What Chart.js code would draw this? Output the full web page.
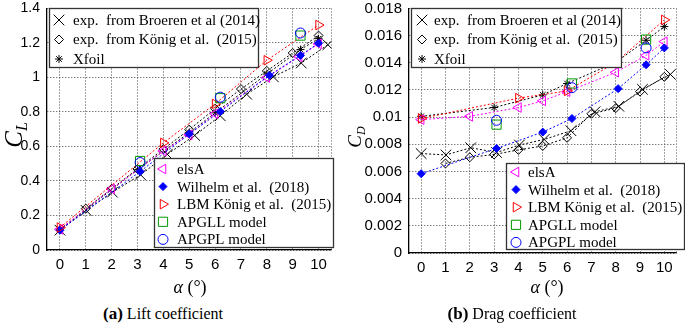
<!DOCTYPE html>
<html><head><meta charset="utf-8">
<script src="https://cdn.jsdelivr.net/npm/chart.js@4.4.0/dist/chart.umd.min.js"></script>
<style>
html,body{margin:0;padding:0;background:#fff;}
#wrap{position:relative;width:685px;height:323px;overflow:hidden;font-family:'Liberation Serif',serif;color:#000;}
canvas{position:absolute;top:0;}
.t{position:absolute;white-space:nowrap;transform:translate(-50%,-50%);line-height:1;}
.r{transform:translate(-50%,-50%) rotate(-90deg);}
</style></head><body>
<div id="wrap">
<canvas id="cl" width="340" height="300" style="left:0"></canvas>
<canvas id="cd" width="345" height="300" style="left:340px"></canvas>
<div class="t r" style="left:13px;top:135px;font-size:25px;"><i>C</i><i style="font-size:16px;position:relative;top:5px;">L</i></div>
<div class="t r" style="left:354px;top:137px;font-size:19px;"><i>C</i><i style="font-size:12px;position:relative;top:4px;">D</i></div>
<div class="t" style="left:190px;top:287px;font-size:18px;"><i>α</i> (°)</div>
<div class="t" style="left:547px;top:287px;font-size:18px;"><i>α</i> (°)</div>
<div class="t" style="left:163px;top:313px;font-size:16px;"><b style="font-size:17px">(a)</b> Lift coefficient</div>
<div class="t" style="left:512px;top:313px;font-size:16px;"><b style="font-size:17px">(b)</b> Drag coefficient</div>
</div>
<script>
// ---------- DATA ----------
const xTickValues = [0,1,2,3,4,5,6,7,8,9,10];
const clTickValues = [0,0.2,0.4,0.6,0.8,1,1.2,1.4];
const clTickLabels = ["0","0.2","0.4","0.6","0.8","1","1.2","1.4"];
const cdTickValues = [0,0.002,0.004,0.006,0.008,0.01,0.012,0.014,0.016,0.018];
const cdTickLabels = ["0","0.002","0.004","0.006","0.008","0.01","0.012","0.014","0.016","0.018"];

const seriesNames = ["exp.  from Broeren et al (2014)","exp.  from König et al.  (2015)","Xfoil","elsA","Wilhelm et al.  (2018)","LBM König et al.  (2015)","APGLL model","APGPL model"];

// Lift coefficient
const clBroerenAlpha = [0,1.01,2.03,3.12,4.15,5.21,6.2,7.22,8.25,9.33,10.36];
const clBroeren      = [0.115,0.23,0.335,0.436,0.555,0.664,0.778,0.903,1.004,1.084,1.19];
const clKonigAlpha   = [1,2,3,4,5,6,7,8,9,10];
const clKonig        = [0.24,0.355,0.47,0.585,0.698,0.819,0.933,1.038,1.142,1.243];
const clXfoilAlpha   = [0,3,5,6,8,9.3,10];
const clXfoil        = [0.12,0.465,0.68,0.795,1.02,1.162,1.225];
const clElsaAlpha    = [0,2,4,5,6,8,9.25,10];
const clElsa         = [0.12,0.354,0.574,0.668,0.79,1.0,1.12,1.195];
const clWilhelmAlpha = [0,3.1,5,6.2,8.1,9.3,10];
const clWilhelm      = [0.115,0.455,0.673,0.803,1.013,1.128,1.199];
const clLbmAlpha     = [0,4,6,8,10];
const clLbm          = [0.13,0.621,0.847,1.10,1.304];
const clModelAlpha   = [3.1,6.2,9.3];
const clApgll        = [0.516,0.88,1.243];
const clApgpl        = [0.507,0.886,1.258];

// Drag coefficient
const cdBroerenAlpha = [0,1.02,2.04,3.1,4.04,5.06,6.16,7.15,8.13,9.1,10.25];
const cdBroeren      = [0.00732,0.00722,0.00775,0.0074,0.00795,0.00836,0.0090,0.0104,0.0108,0.01205,0.01315];
const cdKonigAlpha   = [1,2,3,4,5,6,7,8,9,10];
const cdKonig        = [0.00659,0.00705,0.00725,0.00759,0.00788,0.00848,0.01025,0.01066,0.01188,0.01297];
const cdXfoilAlpha   = [0,3,5,6,8,9.25,10];
const cdXfoil        = [0.01006,0.01071,0.01164,0.01248,0.01403,0.01566,0.01667];
const cdElsaAlpha    = [0,2,4,5,6,8,9.25,10];
const cdElsa         = [0.00982,0.01006,0.01071,0.0112,0.01188,0.0133,0.01455,0.01556];
const cdWilhelmAlpha = [0,3.1,5,6.2,8.1,9.25,10];
const cdWilhelm      = [0.00584,0.0077,0.0089,0.0099,0.0121,0.01386,0.0151];
const cdLbmAlpha     = [0,4,6,8,10];
const cdLbm          = [0.0099,0.0114,0.01193,0.01403,0.01716];
const cdModelAlpha   = [3.1,6.2,9.25];
const cdApgll        = [0.00945,0.01248,0.01571];
const cdApgpl        = [0.00977,0.01217,0.0151];

// ---------- STYLES ----------
const styles = [
  {color:'#000000', style:'crossRot', r:7.5, fill:'rgba(0,0,0,0)', rot:0, line:true},
  {color:'#000000', style:'rectRot', r:4.5, fill:'rgba(255,255,255,0)', rot:0, line:true},
  {color:'#000000', style:'star', r:4, fill:'#000', rot:0, line:true},
  {color:'#ff00ff', style:'triangle', r:5.5, fill:'rgba(0,0,0,0)', rot:270, line:true},
  {color:'#0000ff', style:'rectRot', r:4, fill:'#0000ff', rot:0, line:true},
  {color:'#ff0000', style:'triangle', r:5.5, fill:'rgba(0,0,0,0)', rot:90, line:true},
  {color:'#009a00', style:'rect', r:6.5, fill:'rgba(0,0,0,0)', rot:0, line:false},
  {color:'#0000ff', style:'circle', r:5, fill:'rgba(0,0,0,0)', rot:0, line:false}
];

function pts(a, v){ return a.map((x,i)=>({x:x, y:v[i]})); }
function makeDatasets(list){
  return list.map((d,i)=>{
    const s = styles[i];
    return {
      label: seriesNames[i], data: pts(d[0], d[1]),
      showLine: s.line, borderColor: s.color, borderWidth: 1, borderDash:[2,2],
      pointStyle: s.style, pointRadius: s.r, pointRotation: s.rot,
      pointBorderColor: s.color, pointBackgroundColor: s.fill, pointBorderWidth: 1,
      pointHoverRadius: s.r, order: 8 - i
    };
  });
}

const legendPlugin = {
  id: 'boxes',
  afterDatasetsDraw(chart, args, opts){
    const ctx = chart.ctx;
    (opts.boxes || []).forEach(b=>{
      ctx.save();
      ctx.fillStyle = '#fff';
      ctx.fillRect(b.x, b.y, b.w, b.h);
      ctx.strokeStyle = '#333'; ctx.lineWidth = 1.3; ctx.setLineDash([]);
      ctx.strokeRect(b.x + 0.5, b.y + 0.5, b.w, b.h);
      b.items.forEach((idx, i)=>{
        const ds = chart.data.datasets[idx];
        const y = b.y0 + i * b.dy;
        ctx.strokeStyle = ds.pointBorderColor; ctx.fillStyle = ds.pointBackgroundColor;
        ctx.lineWidth = 1; ctx.setLineDash([]);
        Chart.helpers.drawPoint(ctx, {pointStyle: ds.pointStyle, radius: ds.pointRadius, rotation: ds.pointRotation, borderWidth: 1}, b.sx, y);
        ctx.fillStyle = '#000'; ctx.font = "15px 'Liberation Serif'";
        ctx.textBaseline = 'middle'; ctx.textAlign = 'left';
        ctx.fillText(ds.label, b.tx, y + 1);
      });
      ctx.restore();
    });
  }
};

const edgePlugin = {
  id: 'edges',
  beforeDatasetsDraw(chart){
    const a = chart.chartArea, ctx = chart.ctx;
    ctx.save();
    ctx.strokeStyle = '#555'; ctx.lineWidth = 1; ctx.setLineDash([1,2]);
    ctx.beginPath(); ctx.moveTo(Math.round(a.right)-0.5, a.top); ctx.lineTo(Math.round(a.right)-0.5, a.bottom); ctx.stroke();
    ctx.restore();
  }
};

function makeChart(id, datasets, yVals, yLabels, yMax, yWidth, xHeight, padRight, yFont, boxes){
  return new Chart(document.getElementById(id), {
    type: 'scatter',
    data: {datasets: datasets},
    plugins: [edgePlugin, legendPlugin],
    options: {
      responsive: false, animation: false, devicePixelRatio: 1,
      layout: {padding: {top: 6, right: padRight, left: 0, bottom: 0}},
      plugins: {legend: {display: false}, tooltip: {enabled: false}, boxes: {boxes: boxes}},
      scales: {
        x: {
          type: 'linear', min: -0.5, max: 10.5,
          afterBuildTicks: s => { s.ticks = xTickValues.map(v=>({value:v})); },
          afterFit: s => { s.height = xHeight; s.paddingLeft = 0; s.paddingRight = 0; },
          ticks: {color: '#000', font: {family: "'Liberation Sans', Arial", size: 15}, padding: 6, maxRotation: 0, autoSkip: false,
                  callback: v => String(v)},
          grid: {color: '#444', lineWidth: 1, drawTicks: false},
          border: {display: true, color: '#000', width: 1.3, dash: [1,2]}
        },
        y: {
          type: 'linear', min: 0, max: yMax,
          afterBuildTicks: s => { s.ticks = yVals.map(v=>({value:v})); },
          afterFit: s => { s.width = yWidth; s.paddingTop = 0; s.paddingBottom = 0; },
          ticks: {color: '#000', font: {family: "'Liberation Sans', Arial", size: yFont}, padding: 7, autoSkip: false,
                  callback: (v, i) => yLabels[i]},
          grid: {color: '#444', lineWidth: 1, drawTicks: false},
          border: {display: true, color: '#000', width: 1.3, dash: [1,2]}
        }
      }
    }
  });
}

const clSets = makeDatasets([
  [clBroerenAlpha, clBroeren],[clKonigAlpha, clKonig],[clXfoilAlpha, clXfoil],[clElsaAlpha, clElsa],
  [clWilhelmAlpha, clWilhelm],[clLbmAlpha, clLbm],[clModelAlpha, clApgll],[clModelAlpha, clApgpl]]);
const cdSets = makeDatasets([
  [cdBroerenAlpha, cdBroeren],[cdKonigAlpha, cdKonig],[cdXfoilAlpha, cdXfoil],[cdElsaAlpha, cdElsa],
  [cdWilhelmAlpha, cdWilhelm],[cdLbmAlpha, cdLbm],[cdModelAlpha, cdApgll],[cdModelAlpha, cdApgpl]]);

const clChart = makeChart('cl', clSets, clTickValues, clTickLabels, 1.4, 47, 50, 7, 14, [
  {x:49, y:8, w:209, h:59, items:[0,1,2], y0:20, dy:19.5, sx:59, tx:73},
  {x:154, y:158, w:179, h:89, items:[3,4,5,6,7], y0:169, dy:17.6, sx:163, tx:177}
]);
const cdChart = makeChart('cd', cdSets, cdTickValues, cdTickLabels, 0.018, 69, 47, 0, 15, [
  {x:71, y:8, w:210, h:59, items:[0,1,2], y0:20, dy:19.5, sx:82, tx:94},
  {x:166, y:163, w:178, h:86, items:[3,4,5,6,7], y0:172, dy:17.6, sx:176, tx:188}
]);
</script>
</body></html>
